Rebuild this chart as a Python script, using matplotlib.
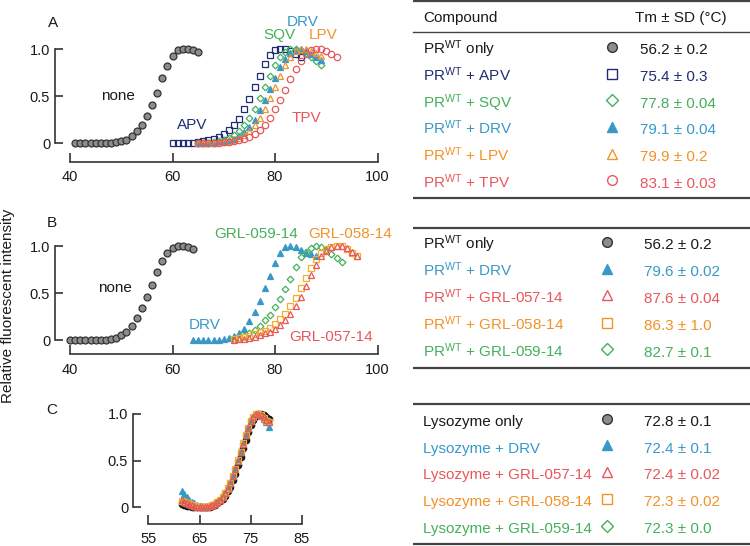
import matplotlib
matplotlib.use('Agg')
import matplotlib.pyplot as plt

plt.rcParams['font.family'] = ['Liberation Sans', 'DejaVu Sans']
plt.rcParams['mathtext.fontset'] = 'custom'
plt.rcParams['mathtext.rm'] = 'Liberation Sans'
plt.rcParams['mathtext.it'] = 'Liberation Sans:italic'
plt.rcParams['mathtext.bf'] = 'Liberation Sans:bold'

BLACK = '#1a1a1a'
GRAY = '#8c8c8c'
NAVY = '#1f2d72'
GREEN = '#45b05c'
BLUE = '#3899c9'
ORANGE = '#f29227'
RED = '#e8575c'
YELLOW = '#f5ad2c'
LINE = '#444444'

# ---- panel A: PR(WT) with clinical inhibitors ----
a_none_t = [41, 42, 43, 44, 45, 46, 47, 48, 49, 50, 51, 52, 53, 54, 55, 56, 57, 58, 59, 60, 61, 62, 63, 64, 65]
a_none = [0, 0, 0, 0, 0, 0, 0, 0, 0.01, 0.02, 0.04, 0.08, 0.13, 0.2, 0.29, 0.41, 0.54, 0.69, 0.82, 0.93, 0.99, 1.0, 1.0, 0.99, 0.97]
a_apv_t = [60, 61, 62, 63, 64, 65, 66, 67, 68, 69, 70, 71, 72, 73, 74, 75, 76, 77, 78, 79, 80, 81, 82, 83, 84, 85]
a_apv = [0, 0, 0, 0, 0, 0.01, 0.02, 0.03, 0.05, 0.07, 0.1, 0.14, 0.19, 0.26, 0.36, 0.47, 0.6, 0.72, 0.84, 0.94, 0.99, 1.0, 1.0, 0.98, 0.95, 0.92]
a_mid_t = [65, 66, 67, 68, 69, 70, 71, 72, 73, 74, 75, 76, 77, 78, 79, 80, 81, 82, 83, 84, 85, 86, 87, 88, 89]
a_sqv = [0, 0, 0, 0.01, 0.02, 0.04, 0.06, 0.09, 0.13, 0.19, 0.27, 0.37, 0.48, 0.6, 0.72, 0.83, 0.92, 0.97, 1.0, 1.0, 0.99, 0.96, 0.92, 0.88, 0.83]
a_drv = [0, 0, 0, 0, 0.01, 0.02, 0.03, 0.05, 0.08, 0.12, 0.17, 0.25, 0.35, 0.46, 0.58, 0.7, 0.81, 0.9, 0.96, 0.99, 1.0, 0.98, 0.95, 0.92, 0.89]
a_lpv = [0, 0, 0, 0, 0.01, 0.015, 0.025, 0.04, 0.06, 0.09, 0.13, 0.19, 0.27, 0.37, 0.48, 0.6, 0.72, 0.83, 0.92, 0.98, 1.0, 1.0, 0.98, 0.96, 0.93]
a_tpv_t = [65, 66, 67, 68, 69, 70, 71, 72, 73, 74, 75, 76, 77, 78, 79, 80, 81, 82, 83, 84, 85, 86, 87, 88, 89, 90, 91, 92]
a_tpv = [0, 0, 0, 0, 0, 0.01, 0.015, 0.02, 0.03, 0.05, 0.07, 0.1, 0.14, 0.2, 0.27, 0.36, 0.46, 0.57, 0.68, 0.79, 0.88, 0.95, 0.99, 1.0, 1.0, 0.98, 0.95, 0.92]

# ---- panel B: PR(WT) with GRL compounds ----
b_none_t = [40, 41, 42, 43, 44, 45, 46, 47, 48, 49, 50, 51, 52, 53, 54, 55, 56, 57, 58, 59, 60, 61, 62, 63, 64]
b_none = [0, 0, 0, 0, 0, 0, 0, 0, 0.01, 0.02, 0.05, 0.09, 0.15, 0.23, 0.34, 0.46, 0.59, 0.72, 0.84, 0.93, 0.98, 1.0, 1.0, 0.99, 0.97]
b_drv_t = [64, 65, 66, 67, 68, 69, 70, 71, 72, 73, 74, 75, 76, 77, 78, 79, 80, 81, 82, 83, 84, 85, 86, 87, 88]
b_drv = [0, 0, 0, 0, 0, 0.005, 0.01, 0.02, 0.04, 0.07, 0.12, 0.2, 0.3, 0.42, 0.55, 0.68, 0.82, 0.93, 0.99, 1.0, 0.99, 0.96, 0.93, 0.91, 0.89]
b_059_t = [72, 73, 74, 75, 76, 77, 78, 79, 80, 81, 82, 83, 84, 85, 86, 87, 88, 89, 90, 91, 92, 93]
b_059 = [0.01, 0.02, 0.04, 0.07, 0.11, 0.15, 0.21, 0.27, 0.35, 0.44, 0.54, 0.65, 0.78, 0.88, 0.94, 0.98, 1.0, 0.99, 0.96, 0.92, 0.87, 0.83]
b_grl_t = [72, 73, 74, 75, 76, 77, 78, 79, 80, 81, 82, 83, 84, 85, 86, 87, 88, 89, 90, 91, 92, 93, 94, 95, 96]
b_058 = [0.01, 0.02, 0.03, 0.04, 0.06, 0.08, 0.1, 0.13, 0.17, 0.22, 0.28, 0.36, 0.45, 0.55, 0.66, 0.77, 0.86, 0.93, 0.97, 0.99, 1.0, 1.0, 0.97, 0.93, 0.89]
b_057 = [0, 0.01, 0.015, 0.02, 0.03, 0.05, 0.07, 0.09, 0.12, 0.16, 0.21, 0.28, 0.36, 0.46, 0.57, 0.69, 0.8, 0.89, 0.95, 0.99, 1.0, 1.0, 0.98, 0.94, 0.89]

# ---- panel C: lysozyme control ----
c_t = [61.5, 62, 62.5, 63, 63.5, 64, 64.5, 65, 65.5, 66, 66.5, 67, 67.5, 68, 68.5, 69, 69.5, 70,
       70.5, 71, 71.5, 72, 72.5, 73, 73.5, 74, 74.5, 75, 75.5, 76, 76.5, 77, 77.5, 78, 78.5]
c_none = [0.03, 0.02, 0.015, 0.01, 0.005, 0, 0, 0, 0, 0, 0.003, 0.007, 0.015, 0.027, 0.045, 0.065, 0.09, 0.125,
          0.17, 0.22, 0.29, 0.36, 0.45, 0.54, 0.63, 0.72, 0.81, 0.88, 0.94, 0.98, 1.0, 1.0, 0.99, 0.97, 0.95]
c_drv = [0.17, 0.14, 0.11, 0.08, 0.06, 0.04, 0.02, 0.01, 0, 0, 0.005, 0.01, 0.02, 0.035, 0.055, 0.08, 0.11, 0.15,
         0.2, 0.26, 0.33, 0.41, 0.5, 0.59, 0.68, 0.77, 0.85, 0.92, 0.97, 1.0, 1.0, 0.98, 0.95, 0.91, 0.86]
c_057 = [0.08, 0.06, 0.045, 0.03, 0.02, 0.01, 0.005, 0, 0, 0, 0.005, 0.01, 0.02, 0.035, 0.055, 0.08, 0.11, 0.15,
         0.2, 0.26, 0.33, 0.41, 0.5, 0.59, 0.68, 0.77, 0.85, 0.92, 0.97, 1.0, 1.0, 0.99, 0.97, 0.94, 0.91]
c_058 = [0.07, 0.055, 0.04, 0.03, 0.02, 0.01, 0.005, 0, 0, 0, 0.005, 0.012, 0.022, 0.037, 0.057, 0.082, 0.113, 0.155,
         0.205, 0.265, 0.335, 0.415, 0.505, 0.595, 0.685, 0.775, 0.855, 0.92, 0.97, 1.0, 1.0, 0.99, 0.96, 0.93, 0.91]
c_059 = [0.06, 0.045, 0.035, 0.025, 0.015, 0.008, 0.003, 0, 0, 0, 0.005, 0.01, 0.02, 0.035, 0.055, 0.08, 0.11, 0.15,
         0.2, 0.26, 0.33, 0.41, 0.5, 0.59, 0.68, 0.77, 0.85, 0.92, 0.97, 1.0, 1.0, 0.99, 0.97, 0.94, 0.92]

y_ticks = [0, 0.5, 1.0]
y_ticklabels = ['0', '0.5', '1.0']

# ---- tables ----
tab_a_names = [r'PR$^{\mathrm{WT}}$ only', r'PR$^{\mathrm{WT}}$ + APV', r'PR$^{\mathrm{WT}}$ + SQV',
               r'PR$^{\mathrm{WT}}$ + DRV', r'PR$^{\mathrm{WT}}$ + LPV', r'PR$^{\mathrm{WT}}$ + TPV']
tab_a_values = ['56.2 ± 0.2', '75.4 ± 0.3', '77.8 ± 0.04', '79.1 ± 0.04', '79.9 ± 0.2', '83.1 ± 0.03']
tab_a_colors = [BLACK, NAVY, GREEN, BLUE, ORANGE, RED]
tab_a_marks = [('o', GRAY), ('s', 'none'), ('D', 'none'), ('^', 'fill'), ('^', 'none'), ('o', 'none')]

tab_b_names = [r'PR$^{\mathrm{WT}}$ only', r'PR$^{\mathrm{WT}}$ + DRV', r'PR$^{\mathrm{WT}}$ + GRL-057-14',
               r'PR$^{\mathrm{WT}}$ + GRL-058-14', r'PR$^{\mathrm{WT}}$ + GRL-059-14']
tab_b_values = ['56.2 ± 0.2', '79.6 ± 0.02', '87.6 ± 0.04', '86.3 ± 1.0', '82.7 ± 0.1']
tab_b_colors = [BLACK, BLUE, RED, ORANGE, GREEN]
tab_b_marks = [('o', GRAY), ('^', 'fill'), ('^', 'none'), ('s', 'none'), ('D', 'none')]

tab_c_names = ['Lysozyme only', 'Lysozyme + DRV', 'Lysozyme + GRL-057-14', 'Lysozyme + GRL-058-14',
               'Lysozyme + GRL-059-14']
tab_c_values = ['72.8 ± 0.1', '72.4 ± 0.1', '72.4 ± 0.02', '72.3 ± 0.02', '72.3 ± 0.0']
tab_c_colors = tab_b_colors
tab_c_marks = tab_b_marks

fig = plt.figure(figsize=(7.5, 5.46), dpi=100)

# overlay in pixel coordinates for tables and panel letters
ov = fig.add_axes([0, 0, 1, 1])
ov.set_xlim(0, 750)
ov.set_ylim(546, 0)
ov.axis('off')


def style_axis(ax, xlim, ylim, xbounds, xticks):
    ax.set_xlim(*xlim)
    ax.set_ylim(*ylim)
    ax.patch.set_visible(False)
    ax.spines['top'].set_visible(False)
    ax.spines['right'].set_visible(False)
    for s in ['left', 'bottom']:
        ax.spines[s].set_linewidth(1.2)
        ax.spines[s].set_color('#333333')
    ax.spines['left'].set_bounds(0, 1)
    ax.spines['bottom'].set_bounds(*xbounds)
    ax.set_xticks(xticks)
    ax.set_yticks(y_ticks)
    ax.set_yticklabels(y_ticklabels)
    ax.tick_params(axis='both', direction='in', width=1.2, color='#333333', labelsize=10.5, labelcolor=BLACK)
    ax.tick_params(axis='y', length=6, pad=3.5)
    ax.tick_params(axis='x', length=6.5, pad=6)


def pts(ax, t, y, marker, color, fill=False, ms=4.2, edge=None):
    ax.plot(t, y, ls='none', marker=marker, ms=ms, mew=0.9,
            mfc=(color if fill else 'none'), mec=(edge or color), clip_on=False)


# panel A
axA = fig.add_axes([55 / 750, 1 - 162.1 / 546, 325.1 / 750, 150.4 / 546])
style_axis(axA, (37.07, 100.5), (-0.2, 1.4), (40, 100), [40, 60, 80, 100])
pts(axA, a_none_t, a_none, 'o', GRAY, fill=True, ms=5, edge='#333333')
pts(axA, a_apv_t, a_apv, 's', NAVY, ms=3.8)
pts(axA, a_mid_t, a_sqv, 'D', GREEN, ms=3.4)
pts(axA, a_mid_t, a_drv, '^', BLUE, fill=True, ms=4.6)
pts(axA, a_mid_t, a_lpv, '^', ORANGE, ms=4.6)
pts(axA, a_tpv_t, a_tpv, 'o', RED, ms=4.6)
axA.text(49.4, 0.5, 'none', color=BLACK, fontsize=11, ha='center', va='center')
axA.text(63.8, 0.19, 'APV', color=NAVY, fontsize=11, ha='center', va='center')
axA.text(80.8, 1.15, 'SQV', color=GREEN, fontsize=11, ha='center', va='center')
axA.text(85.3, 1.29, 'DRV', color=BLUE, fontsize=11, ha='center', va='center')
axA.text(89.4, 1.15, 'LPV', color=ORANGE, fontsize=11, ha='center', va='center')
axA.text(86.2, 0.27, 'TPV', color=RED, fontsize=11, ha='center', va='center')

# panel B
axB = fig.add_axes([55 / 750, 1 - 354.3 / 546, 325.1 / 750, 136.5 / 546])
style_axis(axB, (37.07, 100.5), (-0.152, 1.3), (40, 100), [40, 60, 80, 100])
pts(axB, b_none_t, b_none, 'o', GRAY, fill=True, ms=5, edge='#333333')
pts(axB, b_drv_t, b_drv, '^', BLUE, fill=True, ms=4.6)
pts(axB, b_059_t, b_059, 'D', GREEN, ms=3.4)
pts(axB, b_grl_t, b_058, 's', YELLOW, ms=4.2)
pts(axB, b_grl_t, b_057, '^', RED, ms=4.6)
axB.text(48.8, 0.55, 'none', color=BLACK, fontsize=11, ha='center', va='center')
axB.text(66.2, 0.16, 'DRV', color=BLUE, fontsize=11, ha='center', va='center')
axB.text(76.4, 1.13, 'GRL-059-14', color=GREEN, fontsize=11, ha='center', va='center')
axB.text(94.6, 1.13, 'GRL-058-14', color=ORANGE, fontsize=11, ha='center', va='center')
axB.text(91.0, 0.03, 'GRL-057-14', color=RED, fontsize=11, ha='center', va='center')

# panel C
axC = fig.add_axes([133 / 750, 1 - 524 / 546, 171.5 / 750, 124 / 546])
style_axis(axC, (52.0, 85.5), (-0.18, 1.15), (55, 85), [55, 65, 75, 85])
pts(axC, c_t, c_none, 'o', '#222222', fill=True, ms=4.6, edge='#111111')
pts(axC, c_t, c_drv, '^', BLUE, fill=True, ms=4.6)
pts(axC, c_t, c_059, 'D', GREEN, ms=3.4)
pts(axC, c_t, c_058, 's', YELLOW, ms=4.2)
pts(axC, c_t, c_057, '^', RED, ms=4.6)

# panel letters and shared y label
ov.text(53, 23, 'A', fontsize=11, color=BLACK, ha='center', va='center')
ov.text(52, 223, 'B', fontsize=11, color=BLACK, ha='center', va='center')
ov.text(52, 410, 'C', fontsize=11, color=BLACK, ha='center', va='center')
ov.text(8, 306, 'Relative fluorescent intensity', fontsize=11, color=BLACK,
        rotation=90, ha='center', va='center')


def draw_table(names, values, colors, marks, baselines, mark_x, val_x, top, bottom):
    ov.plot([413, 750], [top, top], color=LINE, lw=1.6, solid_capstyle='butt')
    ov.plot([413, 750], [bottom, bottom], color=LINE, lw=1.6, solid_capstyle='butt')
    for name, val, col, (mk, face), yb in zip(names, values, colors, marks, baselines):
        ov.text(423, yb, name, fontsize=11, color=col, ha='left', va='baseline')
        ov.text(val_x, yb, val, fontsize=11, color=col, ha='left', va='baseline')
        if face == 'fill':
            mfc = col
        elif face == 'none':
            mfc = 'none'
        else:
            mfc = face
        mec = '#333333' if face == GRAY else col
        ms = 6.0 if mk == 'D' else 7.0
        ov.plot(mark_x, yb - 7.5, ls='none', marker=mk, ms=ms, mfc=mfc, mec=mec, mew=1.0)


ov.text(423, 21.7, 'Compound', fontsize=11, color=BLACK, ha='left', va='baseline')
ov.text(635, 21.7, 'Tm ± SD (°C)', fontsize=11, color=BLACK, ha='left', va='baseline')
ov.plot([413, 750], [32, 32], color=LINE, lw=1.0)
draw_table(tab_a_names, tab_a_values, tab_a_colors, tab_a_marks,
           [54.3, 81, 107.7, 134.3, 161, 187.7], 611.7, 640, 1.2, 198.3)
draw_table(tab_b_names, tab_b_values, tab_b_colors, tab_b_marks,
           [249.3, 276, 302.7, 330, 356.7], 607.3, 644, 227.7, 367.7)
draw_table(tab_c_names, tab_c_values, tab_c_colors, tab_c_marks,
           [426, 452.7, 479.3, 506, 533.3], 607.3, 644, 404.3, 544)

fig.savefig('out.png', dpi=100)
